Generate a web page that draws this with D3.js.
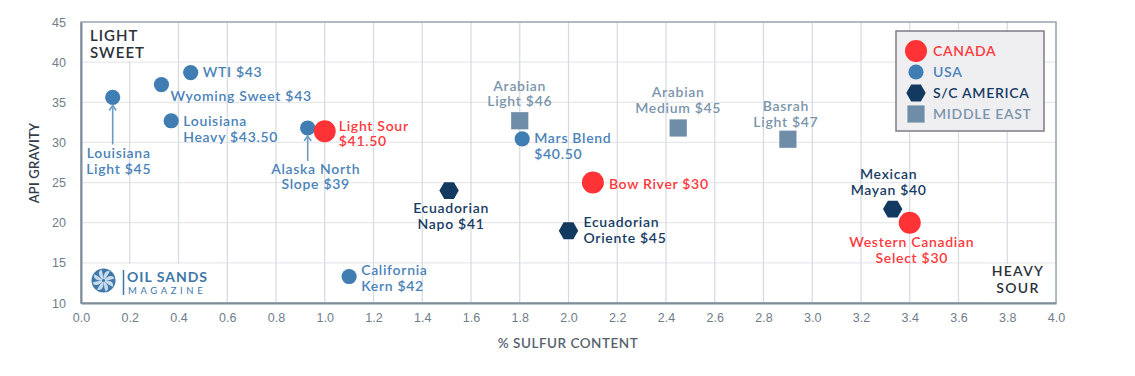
<!DOCTYPE html>
<html>
<head>
<meta charset="utf-8">
<script src="https://cdn.jsdelivr.net/npm/d3@7"></script>
<style>
  body { margin: 0; background: #fff; }
  svg { display: block; font-family: Lato, "Open Sans", sans-serif; }
  .tick text { fill: #6f7d8b; font-size: 12.5px; font-weight: 400; }
</style>
</head>
<body>
<svg id="chart" width="1135" height="376"></svg>
<script>
// crude oils: labels, sulfur %, API gravity, region
var labels = [
  ["Louisiana", "Light $45"], ["Wyoming Sweet $43"], ["WTI $43"], ["Louisiana", "Heavy $43.50"],
  ["Alaska North", "Slope $39"], ["Light Sour", "$41.50"], ["California", "Kern $42"],
  ["Ecuadorian", "Napo $41"], ["Arabian", "Light $46"], ["Mars Blend", "$40.50"],
  ["Ecuadorian", "Oriente $45"], ["Bow River $30"], ["Arabian", "Medium $45"],
  ["Basrah", "Light $47"], ["Mexican", "Mayan $40"], ["Western Canadian", "Select $30"]
];
var sulfur = [0.13, 0.33, 0.45, 0.37, 0.93, 1.0, 1.1, 1.51, 1.8, 1.81, 2.0, 2.1, 2.45, 2.9, 3.33, 3.4];
var gravity = [35.6, 37.2, 38.7, 32.7, 31.8, 31.4, 13.3, 24.0, 32.7, 30.45, 19.0, 25.0, 31.8, 30.4, 21.7, 20.0];
var region = ["USA", "USA", "USA", "USA", "USA", "CANADA", "USA", "S/C AMERICA", "MIDDLE EAST", "USA",
  "S/C AMERICA", "CANADA", "MIDDLE EAST", "MIDDLE EAST", "S/C AMERICA", "CANADA"];

var regionNames = ["CANADA", "USA", "S/C AMERICA", "MIDDLE EAST"];
var xTicks = [0, 0.2, 0.4, 0.6, 0.8, 1.0, 1.2, 1.4, 1.6, 1.8, 2.0, 2.2, 2.4, 2.6, 2.8, 3.0, 3.2, 3.4, 3.6, 3.8, 4.0];
var yTicks = [10, 15, 20, 25, 30, 35, 40, 45];

// label placement relative to each marker
var labelPos = [
  {a: "middle", dx: 6, dy: 61, arrow: [8, 47]}, {a: "start", dx: 9, dy: 16}, {a: "start", dx: 12, dy: 4.5},
  {a: "start", dx: 12, dy: 5.5}, {a: "middle", dx: 8, dy: 46, arrow: [8, 33]}, {a: "start", dx: 14, dy: -0.5},
  {a: "start", dx: 12, dy: -1.5}, {a: "middle", dx: 2, dy: 22.5}, {a: "middle", dx: 0, dy: -30},
  {a: "start", dx: 12, dy: 4.5}, {a: "start", dx: 15, dy: -3.5}, {a: "start", dx: 16, dy: 6},
  {a: "middle", dx: 0, dy: -30.5}, {a: "middle", dx: -2, dy: -28}, {a: "middle", dx: -4, dy: -30},
  {a: "middle", dx: 2, dy: 24.5}
];

var fill = d3.scaleOrdinal().domain(regionNames).range(["#ff3336", "#3f7db3", "#12395f", "#6f8da8"]);
var textFill = d3.scaleOrdinal().domain(regionNames).range(["#ff393c", "#4a83b9", "#173c63", "#7b95ad"]);

var svg = d3.select("#chart");
var x = d3.scaleLinear().domain([0, 4]).range([81, 1056]);
var y = d3.scaleLinear().domain([10, 45]).range([303, 22]);

// grid
svg.append("g").selectAll("line").data(yTicks).enter().append("line")
  .attr("x1", x(0)).attr("x2", x(4)).attr("y1", function(d) { return y(d); }).attr("y2", function(d) { return y(d); })
  .attr("stroke", "#e6e8ec").attr("stroke-width", 1.2);
svg.append("g").selectAll("line").data(xTicks).enter().append("line")
  .attr("y1", y(10)).attr("y2", y(45)).attr("x1", function(d) { return x(d); }).attr("x2", function(d) { return x(d); })
  .attr("stroke", "#d4dae2").attr("stroke-width", 1.2);

// white patches behind corner notes and logo
svg.append("rect").attr("x", x(0)).attr("y", y(45)).attr("width", 78).attr("height", y(40) - y(45) - 1).attr("fill", "#fff");
svg.append("rect").attr("x", x(0)).attr("y", y(15) + 1).attr("width", 135).attr("height", y(10) - y(15) - 1).attr("fill", "#fff");
svg.append("rect").attr("x", 985).attr("y", y(15) + 1).attr("width", x(4) - 985).attr("height", y(10) - y(15) - 1).attr("fill", "#fff");

// frame
svg.append("rect").attr("x", x(0)).attr("y", y(45)).attr("width", x(4) - x(0)).attr("height", y(10) - y(45))
  .attr("fill", "none").attr("stroke", "#9aa7b4").attr("stroke-width", 1.5);

// axes
var xAxis = svg.append("g").attr("transform", "translate(0," + y(10) + ")")
  .call(d3.axisBottom(x).tickValues(xTicks).tickFormat(d3.format(".1f")).tickSize(0).tickPadding(10));
var yAxis = svg.append("g").attr("transform", "translate(" + x(0) + ",0)")
  .call(d3.axisLeft(y).tickValues(yTicks).tickSize(0).tickPadding(15));
[xAxis, yAxis].forEach(function(ax) { ax.select(".domain").attr("stroke", "#7f8d9b").attr("stroke-width", 2); });

svg.append("text").attr("transform", "translate(39,163) rotate(-90)").attr("text-anchor", "middle")
  .attr("fill", "#333d48").attr("font-size", 13).attr("font-weight", 600).attr("letter-spacing", 0.2).text("API GRAVITY");
svg.append("text").attr("x", 568).attr("y", 348).attr("text-anchor", "middle")
  .attr("fill", "#56616d").attr("font-size", 13.5).attr("font-weight", 600).attr("letter-spacing", 0.5).text("% SULFUR CONTENT");

// corner notes
var note = svg.append("text").attr("fill", "#2b3138").attr("font-size", 15).attr("font-weight", 600).attr("letter-spacing", 1);
note.append("tspan").attr("x", 90).attr("y", 40.5).text("LIGHT");
note.append("tspan").attr("x", 90).attr("y", 58.3).text("SWEET");
var note2 = svg.append("text").attr("fill", "#2b3138").attr("font-size", 14).attr("font-weight", 600).attr("letter-spacing", 1.3).attr("text-anchor", "middle");
note2.append("tspan").attr("x", 1018).attr("y", 276).text("HEAVY");
note2.append("tspan").attr("x", 1018).attr("y", 292.5).text("SOUR");

// marker shapes
function hexPath(r) {
  var pts = d3.range(6).map(function(i) { var a = i * Math.PI / 3; return [r * Math.cos(a), r * Math.sin(a)]; });
  return d3.line()(pts) + "Z";
}
function drawMarker(sel, reg) {
  if (reg === "CANADA") sel.append("circle").attr("r", 11).attr("fill", fill(reg));
  else if (reg === "USA") sel.append("circle").attr("r", 7.6).attr("fill", fill(reg));
  else if (reg === "S/C AMERICA") sel.append("path").attr("d", hexPath(9.7)).attr("fill", fill(reg));
  else sel.append("rect").attr("x", -8.6).attr("y", -8.6).attr("width", 17.2).attr("height", 17.2).attr("fill", fill(reg));
}

var pts = svg.append("g").selectAll("g").data(labels).enter().append("g")
  .attr("transform", function(d, i) { return "translate(" + x(sulfur[i]) + "," + y(gravity[i]) + ")"; });

pts.each(function(d, i) {
  var g = d3.select(this);
  var lp = labelPos[i];
  drawMarker(g, region[i]);
  if (lp.arrow) {
    g.append("line").attr("x1", 0).attr("x2", 0).attr("y1", lp.arrow[0] + 2).attr("y2", lp.arrow[1])
      .attr("stroke", "#6b9bc4").attr("stroke-width", 1.6);
    g.append("path").attr("d", "M-3.5," + (lp.arrow[0] + 5) + "L0," + lp.arrow[0] + "L3.5," + (lp.arrow[0] + 5))
      .attr("fill", "none").attr("stroke", "#6b9bc4").attr("stroke-width", 1.6);
  }
  var t = g.append("text").attr("text-anchor", lp.a).attr("fill", textFill(region[i]))
    .attr("font-size", 14).attr("font-weight", 600).attr("letter-spacing", 0.7);
  d.forEach(function(line, k) {
    t.append("tspan").attr("x", lp.dx).attr("y", lp.dy + k * 15.5).text(line);
  });
});

// legend
var lg = svg.append("g");
lg.append("rect").attr("x", 896).attr("y", 31).attr("width", 148).attr("height", 100)
  .attr("fill", "#efeff2").attr("stroke", "#7b7e84").attr("stroke-width", 1.5);
var li = lg.selectAll("g.item").data(regionNames).enter().append("g").attr("class", "item")
  .attr("transform", function(d, i) { return "translate(916," + (51 + i * 21) + ")"; });
li.each(function(d) { drawMarker(d3.select(this), d); });
li.append("text").attr("x", 17).attr("y", 5.2).attr("fill", function(d) { return textFill(d); })
  .attr("font-size", 14).attr("font-weight", 600).attr("letter-spacing", 0.7).text(function(d) { return d; });

// logo
var logo = svg.append("g").attr("transform", "translate(103.5,280.5)");
logo.append("circle").attr("r", 12).attr("fill", "#3d78aa");
d3.range(8).forEach(function(i) {
  var a = i * 45;
  logo.append("path").attr("transform", "rotate(" + a + ")")
    .attr("d", "M0,0 C3,-4 9,-7 11,-2 C8,-1 4,0 0,0Z").attr("fill", "#c8d9ea");
});
logo.append("circle").attr("r", 1.5).attr("fill", "#3d78aa");
svg.append("line").attr("x1", 123.5).attr("x2", 123.5).attr("y1", 270).attr("y2", 295).attr("stroke", "#3d78aa").attr("stroke-width", 1.5);
svg.append("text").attr("x", 127).attr("y", 282).attr("fill", "#3d78aa").attr("font-size", 14).attr("font-weight", 700)
  .attr("textLength", 80).text("OIL SANDS");
svg.append("text").attr("x", 128).attr("y", 294.3).attr("fill", "#3d78aa").attr("font-size", 9.5).attr("font-weight", 400)
  .attr("letter-spacing", 3.6).text("MAGAZINE");
</script>
</body>
</html>
